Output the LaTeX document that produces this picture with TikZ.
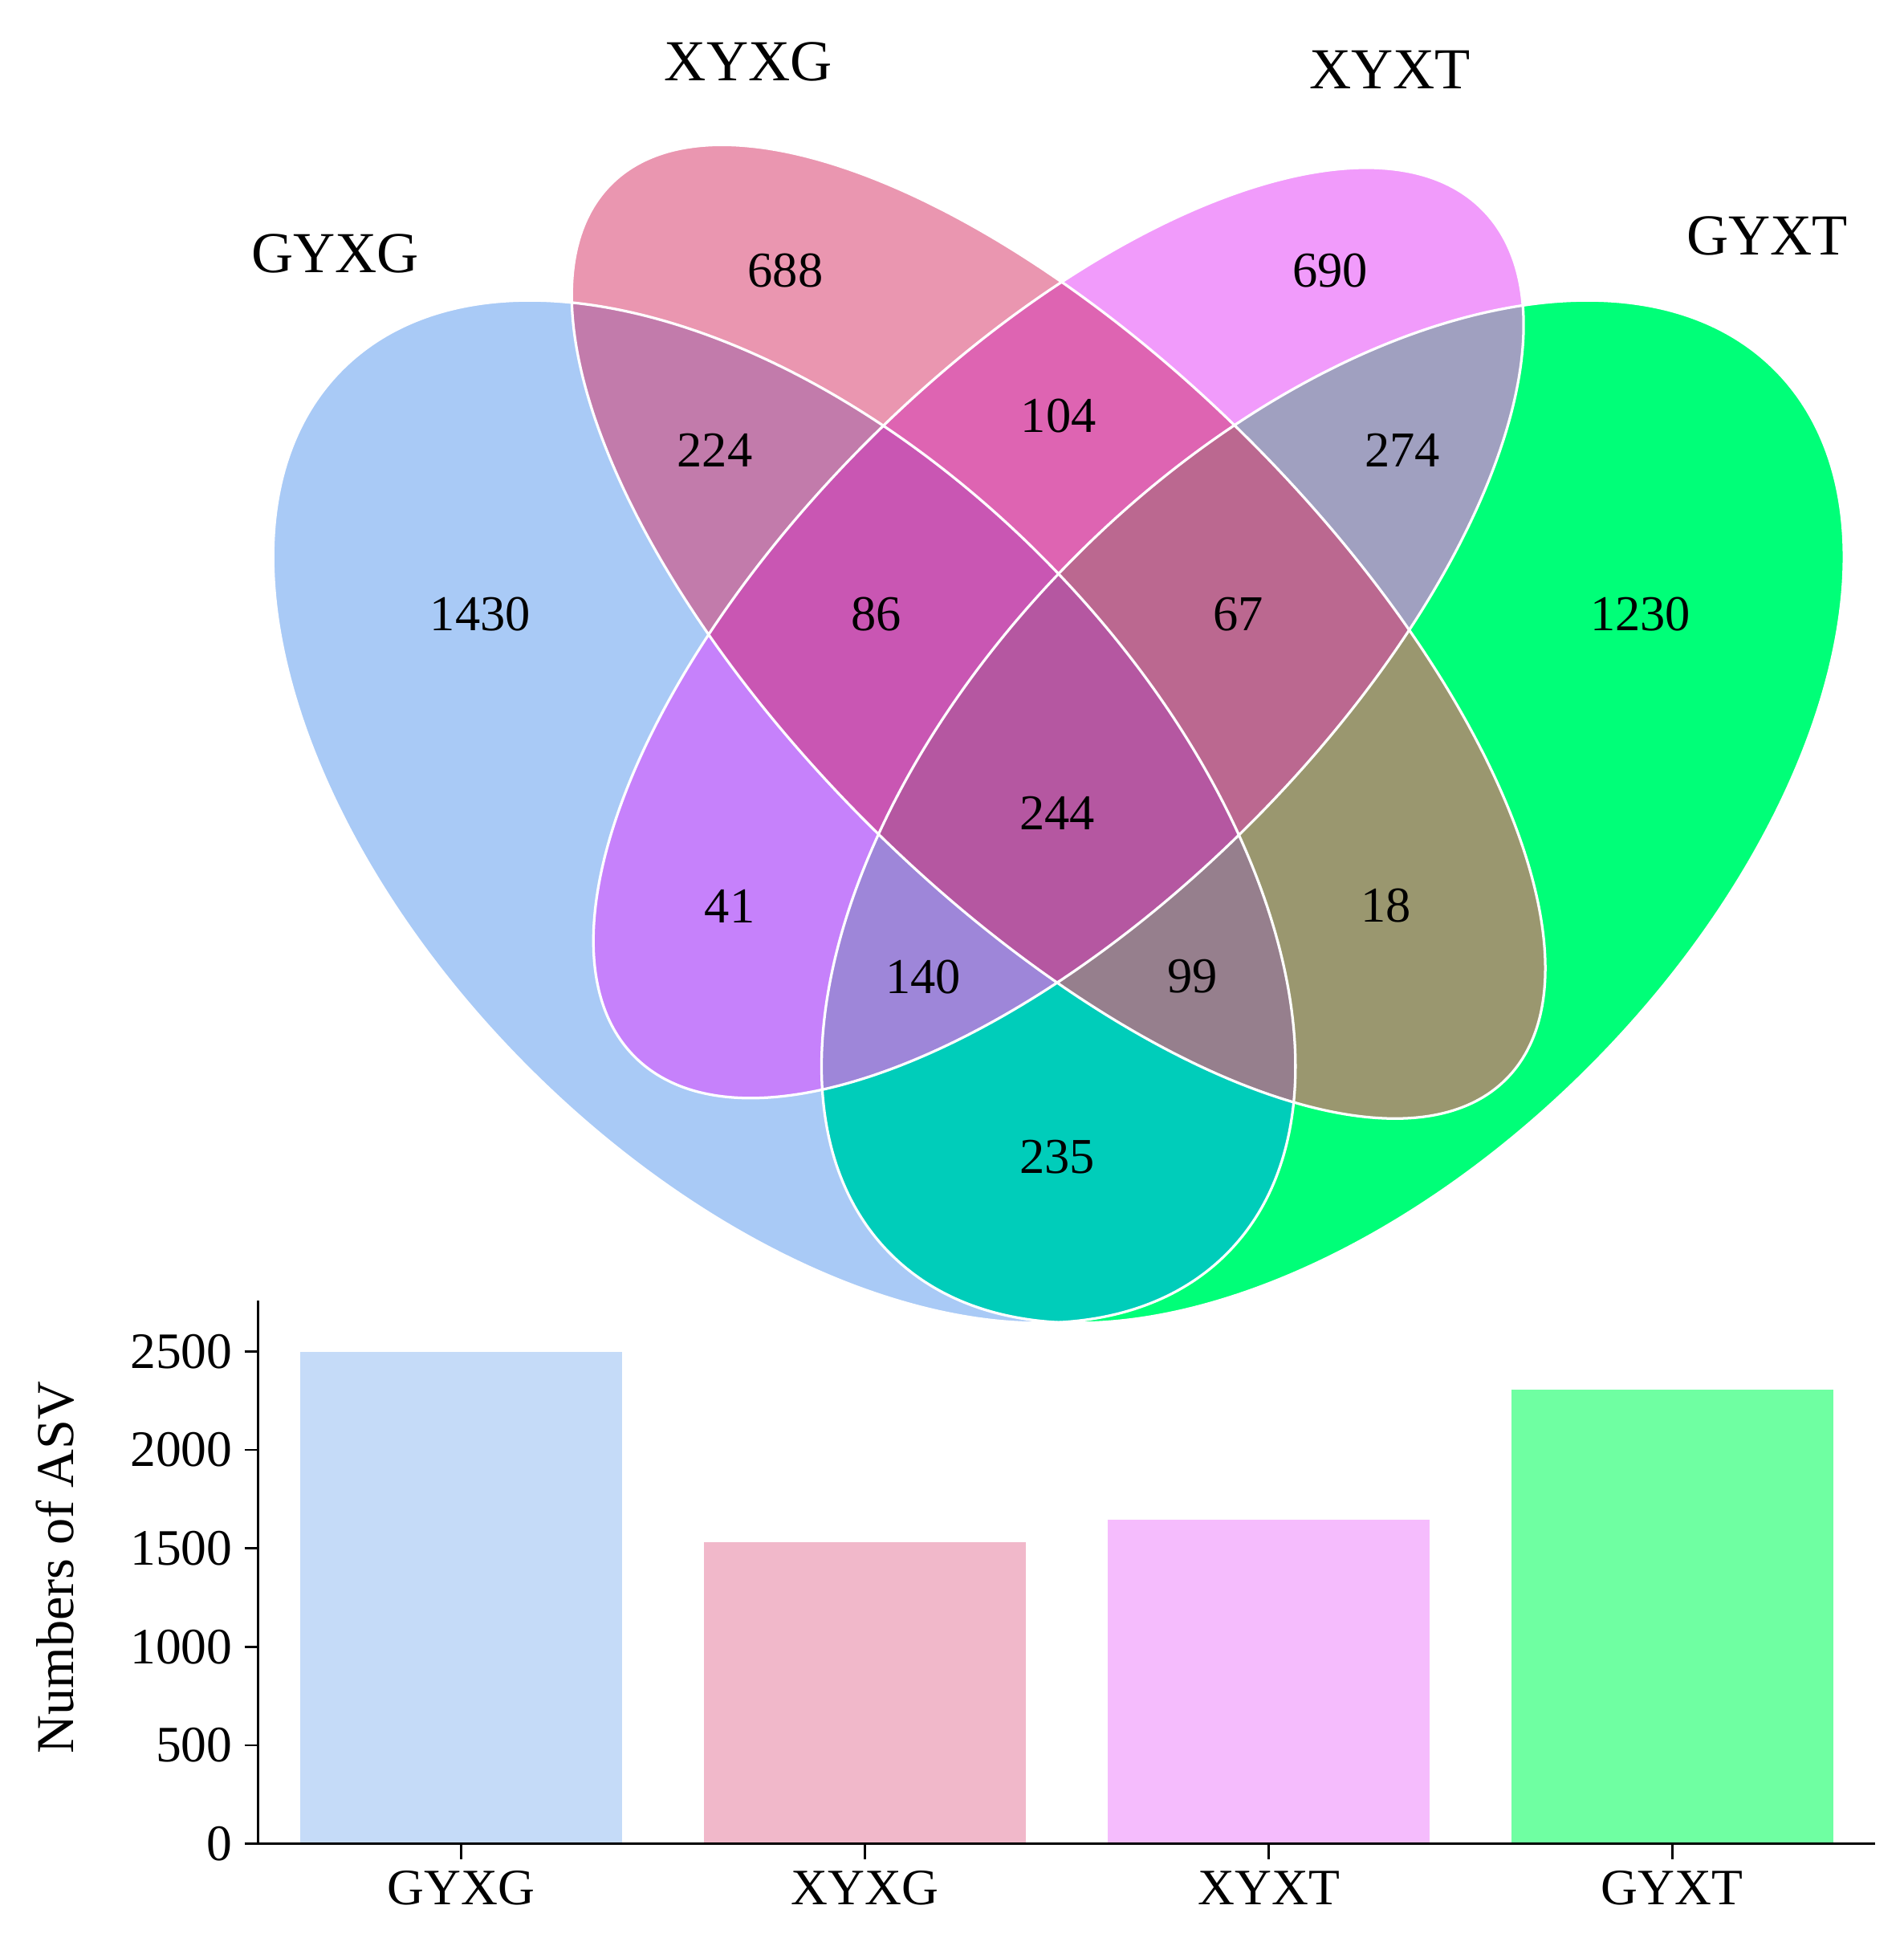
\documentclass[tikz,border=0pt]{standalone}
\usepackage{fontspec}
\setmainfont{Liberation Serif}

% region colours, named after the count they hold
\definecolor{r1430}{HTML}{A9CAF6}
\definecolor{r688}{HTML}{EA96B0}
\definecolor{r690}{HTML}{F19BFB}
\definecolor{r1230}{HTML}{00FF78}
\definecolor{r224}{HTML}{C27BAB}
\definecolor{r41}{HTML}{C681FB}
\definecolor{r235}{HTML}{00CDBA}
\definecolor{r104}{HTML}{DE64B2}
\definecolor{r18}{HTML}{9A976F}
\definecolor{r274}{HTML}{A0A0C0}
\definecolor{r86}{HTML}{C956B3}
\definecolor{r99}{HTML}{967F8D}
\definecolor{r140}{HTML}{9E86D9}
\definecolor{r67}{HTML}{BB6890}
\definecolor{r244}{HTML}{B557A1}
\definecolor{barGYXG}{HTML}{C5DBF8}
\definecolor{barXYXG}{HTML}{F1B8CA}
\definecolor{barXYXT}{HTML}{F5BCFD}
\definecolor{barGYXT}{HTML}{6FFFA2}

% one clip per set
\newcommand{\inGYXG}{\clip[rotate around={-45:(6.32,9.14)}] (6.32,9.14) ellipse [x radius=5.04, y radius=2.92];}
\newcommand{\inXYXG}{\clip[rotate around={-45:(8.53,10.59)}] (8.53,10.59) ellipse [x radius=5.10, y radius=2.18];}
\newcommand{\inXYXT}{\clip[rotate around={45:(8.53,10.58)}] (8.53,10.58) ellipse [x radius=4.83, y radius=2.18];}
\newcommand{\inGYXT}{\clip[rotate around={45:(10.74,9.14)}] (10.74,9.14) ellipse [x radius=5.04, y radius=2.92];}

\tikzset{
  vennline/.style={draw=white, line width=0.6pt},
  setname/.style={font=\fontsize{13.3}{16}\selectfont},
  regionnum/.style={font=\fontsize{11.5}{14}\selectfont},
  ticklabel/.style={font=\fontsize{11.7}{14}\selectfont},
  axisline/.style={line width=0.5pt},
}

\begin{document}
\begin{tikzpicture}
  \useasboundingbox (0,0) rectangle (15.34,15.68);
  % venn regions, painted from single sets up to all four
  \foreach \sets/\col in {
      {\inGYXG}/r1430, {\inXYXG}/r688, {\inXYXT}/r690, {\inGYXT}/r1230,
      {\inGYXG\inXYXG}/r224, {\inGYXG\inXYXT}/r41, {\inGYXG\inGYXT}/r235,
      {\inXYXG\inXYXT}/r104, {\inXYXG\inGYXT}/r18, {\inXYXT\inGYXT}/r274,
      {\inGYXG\inXYXG\inXYXT}/r86, {\inGYXG\inXYXG\inGYXT}/r99,
      {\inGYXG\inXYXT\inGYXT}/r140, {\inXYXG\inXYXT\inGYXT}/r67,
      {\inGYXG\inXYXG\inXYXT\inGYXT}/r244} {
    \begin{scope}
      \sets
      \fill[\col] (0,4.5) rectangle (15.34,15.68);
    \end{scope}
  }
  \draw[vennline, rotate around={-45:(6.32,9.14)}] (6.32,9.14) ellipse [x radius=5.04, y radius=2.92];
  \draw[vennline, rotate around={45:(10.74,9.14)}] (10.74,9.14) ellipse [x radius=5.04, y radius=2.92];
  \draw[vennline, rotate around={-45:(8.53,10.59)}] (8.53,10.59) ellipse [x radius=5.10, y radius=2.18];
  \draw[vennline, rotate around={45:(8.53,10.58)}] (8.53,10.58) ellipse [x radius=4.83, y radius=2.18];

  % set names
  \node (tGYXG) at (2.70, 13.635) [setname] {GYXG};
  \node (tXYXG) at (6.03, 15.18) [setname] {XYXG};
  \node (tXYXT) at (11.20, 15.12) [setname] {XYXT};
  \node (tGYXT) at (14.24, 13.78) [setname] {GYXT};

  % counts
  \foreach \val/\x/\y in {688/6.33/13.50, 690/10.72/13.50, 224/5.76/12.05,
      104/8.53/12.33, 274/11.30/12.05, 1430/3.87/10.73, 86/7.06/10.73,
      67/9.98/10.73, 1230/13.22/10.73, 244/8.52/9.13, 41/5.88/8.38,
      18/11.17/8.38, 140/7.44/7.81, 99/9.61/7.81, 235/8.52/6.36}
    \node (n\val) at (\x,\y) [regionnum] {\val};

  % bar chart
  \coordinate (origin) at (2.08,0.824);
  \coordinate (ytop) at (2.08,5.20);
  \coordinate (xend) at (15.11,0.824);
  \foreach \name/\xc/\val in {GYXG/3.715/2499, XYXG/6.97/1530, XYXT/10.225/1646, GYXT/13.475/2307} {
    \fill[bar\name] (\xc-1.297,0.824) rectangle (\xc+1.297,{0.824+\val*0.00159});
    \draw[axisline] (\xc,0.824) -- (\xc,0.70);
    \node (x\name) at (\xc,0.47) [ticklabel] {\name};
  }
  \foreach \v in {0,500,...,2500} {
    \coordinate (t\v) at (1.97,{0.824+\v*0.00159});
    \draw[axisline] (t\v) -- ++(0.11,0);
    \node (y\v) [ticklabel, anchor=east, inner sep=0pt] at ([xshift=-0.09cm]t\v) {\v};
  }
  \draw[axisline] (ytop) -- (origin) -- (xend);
  \node (ylabel) at (0.446,3.05) [ticklabel, font=\fontsize{12.2}{14}\selectfont, rotate=90] {Numbers of ASV};
\end{tikzpicture}
\end{document}
